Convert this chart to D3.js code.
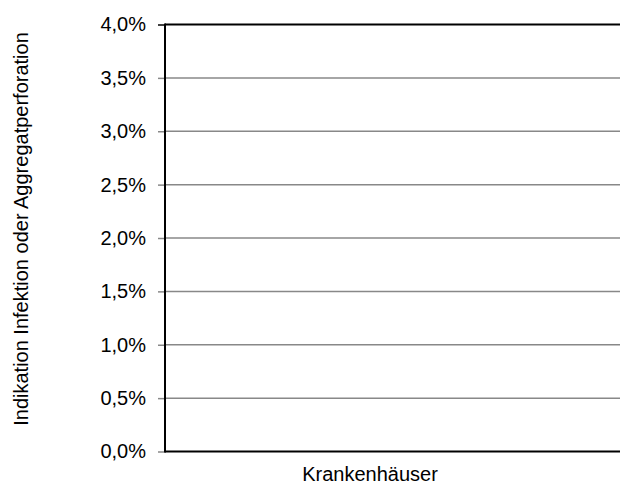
<!DOCTYPE html>
<html><head><meta charset="utf-8">
<script src="https://cdn.jsdelivr.net/npm/d3@7"></script>
<style>body{margin:0;background:#fff}svg{display:block}text{font-family:"Liberation Sans",Arial,sans-serif;fill:#000}</style>
</head><body>
<svg id="c" width="621" height="486"></svg>
<script>
const categories = ["Krankenhäuser"];
const values = [];
const yTicks = [0, 0.005, 0.01, 0.015, 0.02, 0.025, 0.03, 0.035, 0.04];
const yTitle = "Indikation Infektion oder Aggregatperforation";

const svg = d3.select("#c");
const m = {l:165, r:620, t:24.5, b:451.5};
const y = d3.scaleLinear().domain([0, 0.04]).range([m.b, m.t]);
const x = d3.scaleBand().domain(categories).range([m.l, m.r]);
const fmt = v => (v*100).toFixed(1).replace(".", ",") + "%";
const FS = 20;

// gridlines
svg.append("g").selectAll("line").data(yTicks.filter(v => v > 0)).join("line")
  .attr("x1", m.l).attr("x2", m.r)
  .attr("y1", d => y(d)).attr("y2", d => y(d))
  .attr("stroke", d => d === 0.04 ? "#000" : "#888").attr("stroke-width", d => d === 0.04 ? 2 : 1.5);

// y axis
const ya = svg.append("g").attr("transform", `translate(${m.l},0)`)
  .call(d3.axisLeft(y).tickValues(yTicks).tickFormat(fmt).tickSize(7).tickPadding(12));
ya.select(".domain").remove();
ya.attr("font-size", FS).attr("font-family", '"Liberation Sans",Arial,sans-serif');
ya.selectAll(".tick line").attr("stroke", "#888").attr("stroke-width", 1.5);
ya.selectAll(".tick text").style("font-size", FS + "px").attr("fill", "#000");
ya.selectAll(".tick").filter(d => d === 0.04).select("line").attr("stroke", "#000");

// axis lines
svg.append("line").attr("x1", m.l).attr("x2", m.l).attr("y1", m.t - 1).attr("y2", m.b + 1)
  .attr("stroke", "#000").attr("stroke-width", 2);
svg.append("line").attr("x1", m.l).attr("x2", m.r).attr("y1", m.b).attr("y2", m.b)
  .attr("stroke", "#000").attr("stroke-width", 2);

// bars (none – no data)
svg.append("g").selectAll("rect").data(values).join("rect")
  .attr("x", (d,i) => x(categories[i])).attr("width", x.bandwidth())
  .attr("y", d => y(d)).attr("height", d => m.b - y(d)).attr("fill", "#4472c4");

// x label
svg.append("text").attr("x", 370).attr("y", 481).attr("text-anchor", "middle")
  .style("font-size", FS + "px").text(categories[0]);

// y title
svg.append("text").attr("transform", "translate(28,229) rotate(-90)").attr("text-anchor", "middle")
  .style("font-size", FS + "px").text(yTitle);
</script>
</body></html>
